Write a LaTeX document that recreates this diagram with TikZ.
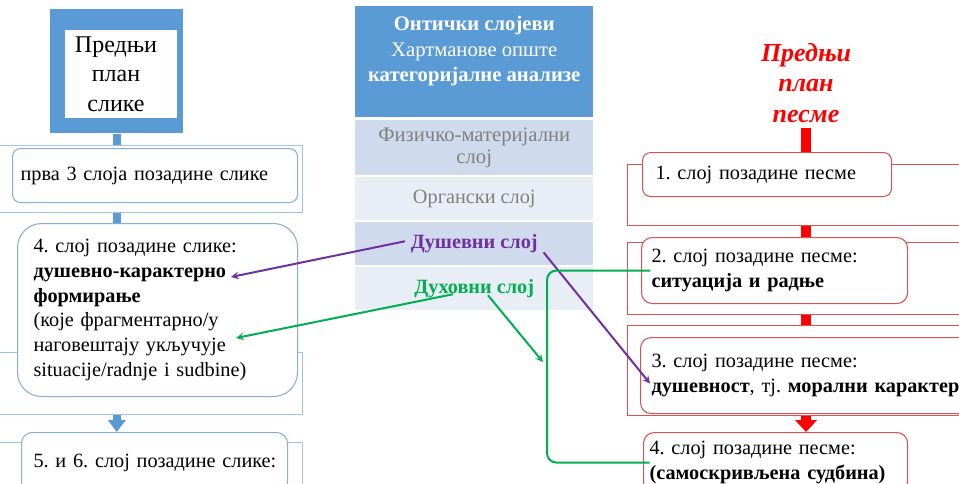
\documentclass[tikz,border=0pt]{standalone}
\usepackage{fontspec}
\setmainfont{Liberation Serif}
\usetikzlibrary{arrows.meta}
\definecolor{smblue}{RGB}{91,155,213}
\definecolor{frameblue}{RGB}{157,195,230}
\definecolor{boxblue}{RGB}{135,175,220}
\definecolor{boxred}{RGB}{214,84,84}
\definecolor{layerdark}{RGB}{207,218,236}
\definecolor{layerlight}{RGB}{232,237,246}
\definecolor{layergray}{RGB}{128,128,128}
\definecolor{dpurple}{RGB}{112,48,160}
\definecolor{dgreen}{RGB}{0,176,80}
\newcommand{\bodyfont}{\fontsize{15.2}{18.5}\selectfont}
\newcommand{\titlefont}{\fontsize{18}{22}\selectfont}
\frenchspacing

\begin{document}
\begin{tikzpicture}[x=0.75pt,y=-0.75pt]
\tikzstyle{frame} = [rectangle, anchor=north west, draw=frameblue, line width=0.8pt, inner sep=0pt]
\tikzstyle{rframe} = [frame, draw=boxred]
\tikzstyle{leftbox} = [rectangle, rounded corners=6pt, anchor=north west, draw=boxblue, fill=white, line width=0.8pt, align=left, inner ysep=0pt, font=\bodyfont]
\tikzstyle{rightbox} = [leftbox, draw=boxred]
\tikzstyle{layer} = [rectangle, anchor=north west, minimum width=178.5pt, inner sep=0pt, align=center, text=layergray, font=\bodyfont]
\tikzstyle{spine} = [draw=smblue, line width=6pt]
\tikzstyle{rspine} = [draw=red, line width=7pt]
\tikzstyle{arrow} = [line width=1.5pt, ->, >=stealth]

\useasboundingbox (0,0) rectangle (959,483);

% left column
\node (planokvir) [rectangle, anchor=north west, fill=smblue, minimum width=99.75pt, minimum height=93pt, inner sep=0pt] at (50,9) {};
\node (planpolje) [rectangle, anchor=north west, fill=white, minimum width=84pt, minimum height=66pt, inner sep=0pt] at (65,30) {};
\node (planslike) [align=center, font=\titlefont] at (116,74) {Предњи\\план\\слике};

\node (okvir1) [frame, minimum width=230.25pt, minimum height=50.25pt] at (-5,145) {};
\node (okvir2) [frame, minimum width=230.25pt, minimum height=46.5pt] at (-5,352) {};
\node (okvir3) [frame, minimum width=230.25pt, minimum height=60pt] at (-5,442) {};

\node (prvatri) [leftbox, inner xsep=6pt, text width=201.75pt, minimum height=40.5pt] at (12,148) {прва 3 слоја позадине слике};
\node (sloj4l) [leftbox, rounded corners=18pt, inner xsep=12pt, text width=186pt, minimum height=129.75pt] at (17,223) {4. слој позадине слике:\\\textbf{душевно-карактерно}\\\textbf{формирање}\\(које фрагментарно/у\\наговештају укључује\\situacije/radnje i sudbine)};
\node (sloj56) [leftbox, rounded corners=8pt, inner xsep=9pt, text width=181.5pt, minimum height=45pt] at (21,432) {\mbox{5. и 6. слој позадине слике:}};

\draw [spine] (planokvir.south) -- (planokvir.south |- okvir1.north);
\draw [spine] (planokvir.south |- okvir1.south) -- (planokvir.south |- sloj4l.north);
\draw [spine, -{Triangle[width=13pt,length=9pt]}] (planokvir.south |- okvir2.south) -- (planokvir.south |- sloj56.north);

% ontic layers
\node (ontheader) [layer, fill=smblue, text=white, minimum height=83.25pt, font=\fontsize{15.5}{19}\selectfont] at (355,6) {\textbf{Онтички слојеви}\\Хартманове опште\\\textbf{категоријалне анализе}\\~};
\node (fizicki) [layer, fill=layerdark, minimum height=41.25pt, font=\fontsize{15.5}{17}\selectfont] at (355,120) {Физичко-материјални\\слој};
\node (organski) [layer, fill=layerlight, minimum height=32.25pt] at (355,177) {Органски слој};
\node (dusevni) [layer, fill=layerdark, minimum height=32.25pt, text=dpurple] at (355,222) {\textbf{Душевни слој}};
\node (duhovni) [layer, fill=layerlight, minimum height=32.25pt, text=dgreen] at (355,267) {\textbf{Духовни слој}};

% right column
\node (planpesme) [align=center, text=red, font=\fontsize{19.5}{23}\selectfont\bfseries\itshape] at (806,83) {Предњи\\план\\песме};

\node (rokvir1) [rframe, minimum width=255pt, minimum height=45.75pt] at (627,164) {};
\node (rokvir2) [rframe, minimum width=255pt, minimum height=54pt] at (627,242) {};
\node (rokvir3) [rframe, minimum width=255pt, minimum height=67.5pt] at (627,325) {};

\node (rbox1) [rightbox, inner xsep=9.75pt, text width=167.25pt, minimum height=33pt] at (642,152) {1. слој позадине песме};
\node (rbox2) [rightbox, rounded corners=8pt, inner xsep=7.5pt, text width=184.5pt, minimum height=49.5pt] at (641,237) {2. слој позадине песме:\\\textbf{ситуација и радње}};
\node (rbox3) [rightbox, rounded corners=8pt, inner xsep=8.25pt, text width=300pt, minimum height=57pt] at (640,337) {3. слој позадине песме:\\\textbf{душевност}, тј. \textbf{морални карактер}};
\node (rbox4) [rightbox, rounded corners=8pt, inner xsep=4.5pt, text width=189pt, minimum height=45pt] at (643,432) {4. слој позадине песме:\\\textbf{(самоскривљена судбина)}};

\draw [rspine] (planpesme.south) -- (planpesme.south |- rbox1.north);
\draw [rspine] (planpesme.south |- rokvir1.south) -- (planpesme.south |- rbox2.north);
\draw [rspine] (planpesme.south |- rokvir2.south) -- (planpesme.south |- rokvir3.north);
\draw [rspine, -{Triangle[width=16pt,length=9pt]}] (planpesme.south |- rokvir3.south) -- (planpesme.south |- rbox4.north);

% links
\coordinate (dkend) at (231,277);
\coordinate (ukend) at (236,338);
\coordinate (brk) at (547,362);

\draw [arrow, color=dpurple] ([xshift=37.5pt,yshift=1.9pt]dusevni.west) -- (dkend);
\draw [arrow, color=dpurple] ([xshift=-37.5pt,yshift=-6.4pt]dusevni.east) -- ([xshift=7.5pt,yshift=-6pt]rbox3.west);
\draw [arrow, color=dgreen] ([xshift=73.5pt,yshift=-4.1pt]duhovni.west) -- (ukend);
\draw [arrow, color=dgreen] ([xshift=99.75pt,yshift=-4.9pt]duhovni.west) -- ([xshift=-3pt]brk);
\draw [line width=1.5pt, color=dgreen, rounded corners=7pt] ([xshift=7pt]rbox2.west) -| (brk) |- ([xshift=5pt]rbox4.west);

\end{tikzpicture}
\end{document}
